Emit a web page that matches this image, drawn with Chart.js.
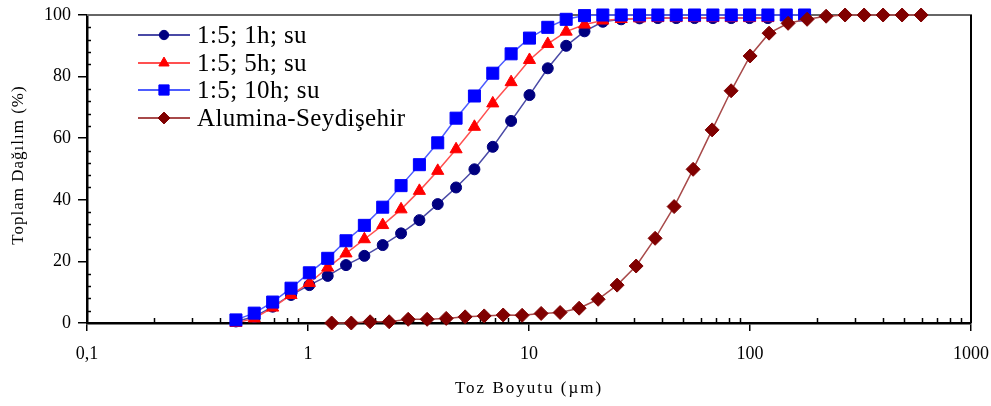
<!DOCTYPE html>
<html>
<head>
<meta charset="utf-8">
<script src="https://cdn.jsdelivr.net/npm/chart.js@4"></script>
<style>
html,body{margin:0;padding:0;background:#fff;}
#wrap{width:991px;height:406px;position:relative;}
canvas{display:block;}
</style>
</head>
<body>
<div id="wrap"><canvas id="c" width="991" height="406"></canvas></div>
<script>
// ---- data ----
const seriesNames = ['1:5; 1h; su', '1:5; 5h; su', '1:5; 10h; su', 'Alumina-Seydişehir'];
const sizesMilled = [0.472,0.571,0.692,0.838,1.014,1.228,1.486,1.799,2.178,2.637,3.192,3.864,4.678,5.663,6.856,8.30,10.05,12.16,14.73,17.83,21.58,26.13,31.63,38.29,46.36,56.12,67.94,82.25,99.57,120.5,145.9,176.6];
const sizesAlumina = [1.28,1.57,1.91,2.33,2.84,3.46,4.22,5.14,6.27,7.64,9.31,11.35,13.83,16.86,20.55,25.05,30.53,37.21,45.36,55.29,67.39,82.14,100.1,122.0,148.7,181.3,221.0,269.3,328.3,400.1,487.7,594.5];
const cum1h = [0.5,2,5.3,9.1,12.3,15.3,18.8,21.8,25.3,29.1,33.4,38.6,44,49.9,57.2,65.6,74,82.7,90,94.7,97.8,98.6,98.9,99,99,99,99,99,99,99];
const cum5h = [0,1.5,5,9.1,13,18,22.6,27.2,31.8,36.9,42.9,49.4,56.4,63.7,71.3,78.2,85.4,90.6,94.6,96.9,98.2,98.7,98.9,99,99,99,99,99,99,99];
const cum10h = [1,3.2,6.8,11.3,16.3,21,26.7,31.7,37.6,44.6,51.4,58.5,66.5,73.7,81.1,87.4,92.5,96,98.6,99.8,100,100,100,100,100,100,100,100,100,100,100,100];
const cumAlumina = [0,0,0.4,0.4,1.2,1.2,1.5,2,2.3,2.6,2.5,3.1,3.4,4.8,7.7,12.3,18.5,27.5,37.8,49.9,62.7,75.4,86.7,94.1,97.3,98.6,99.6,100,100,100,100,100];
const xTickValues = [0.1, 1, 10, 100, 1000];
const xTickLabels = ['0,1', '1', '10', '100', '1000'];
const yTickValues = [0, 20, 40, 60, 80, 100];
const xTitle = 'Toz Boyutu (µm)';
const yTitle = 'Toplam Dağılım (%)';

// ---- build ----
function pairs(xs, ys){ return ys.map((v,i)=>({x:xs[i], y:v})); }
const FONT = '"Liberation Serif", "Times New Roman", serif';

const datasets = [
  {label: seriesNames[0], data: pairs(sizesMilled, cum1h), borderColor:'#4a4aa6', pointBackgroundColor:'#000080', pointBorderColor:'#000080', pointStyle:'circle', pointRadius:5.5, order:4},
  {label: seriesNames[1], data: pairs(sizesMilled, cum5h), borderColor:'#ff5050', pointBackgroundColor:'#ff0000', pointBorderColor:'#ff0000', pointStyle:'triangle', pointRadius:7, order:3},
  {label: seriesNames[2], data: pairs(sizesMilled, cum10h), borderColor:'#4d5cff', pointBackgroundColor:'#0000ff', pointBorderColor:'#0000ff', pointStyle:'rect', pointRadius:8.5, order:2},
  {label: seriesNames[3], data: pairs(sizesAlumina, cumAlumina), borderColor:'#a84a4a', pointBackgroundColor:'#800000', pointBorderColor:'#800000', pointStyle:'rectRot', pointRadius:7, order:1}
].map(d => Object.assign({borderWidth:1.5, pointBorderWidth:1, tension:0, clip:false, pointHoverRadius:d.pointRadius}, d));

const decor = {
  id: 'decor',
  beforeDatasetsDraw(chart){
    const {ctx, chartArea:a, scales:{x, y}} = chart;
    ctx.save();
    ctx.lineWidth = 2;
    ctx.strokeStyle = '#666';
    ctx.beginPath(); ctx.moveTo(a.left, a.top); ctx.lineTo(a.right + 1, a.top); ctx.stroke();
    ctx.strokeStyle = '#000';
    ctx.beginPath(); ctx.moveTo(a.right, a.top); ctx.lineTo(a.right, a.bottom); ctx.stroke();
    ctx.lineWidth = 1.5;
    // inner minor ticks on y
    for (let v = 4; v < 100; v += 4) {
      if (v % 20 === 0) continue;
      const py = Math.round(y.getPixelForValue(v)) + 0.5;
      ctx.beginPath(); ctx.moveTo(a.left, py); ctx.lineTo(a.left + 4, py); ctx.stroke();
    }
    // inner minor ticks on x
    for (const d of xTickValues.slice(0, -1)) {
      for (let m = 2; m <= 9; m++) {
        const px = Math.round(x.getPixelForValue(d * m)) + 0.5;
        ctx.beginPath(); ctx.moveTo(px, a.bottom); ctx.lineTo(px, a.bottom - 5); ctx.stroke();
      }
    }
    ctx.restore();
  },
  afterDraw(chart){
    const {ctx} = chart;
    const H = Chart.helpers;
    ctx.save();
    // axis titles
    ctx.fillStyle = '#000';
    ctx.font = '17px ' + FONT;
    ctx.textAlign = 'center';
    ctx.textBaseline = 'middle';
    try { ctx.letterSpacing = '2px'; } catch(e) {}
    ctx.fillText(xTitle, 529, 389);
    try { ctx.letterSpacing = '1px'; } catch(e) {}
    ctx.save();
    ctx.translate(19, 165);
    ctx.rotate(-Math.PI / 2);
    ctx.fillText(yTitle, 0, 0);
    ctx.restore();
    try { ctx.letterSpacing = '0.4px'; } catch(e) {}
    // legend
    const rowY = [35, 63, 90, 118];
    chart.data.datasets.forEach((ds, i) => {
      const yy = rowY[i];
      ctx.strokeStyle = ds.borderColor;
      ctx.lineWidth = 2;
      ctx.beginPath(); ctx.moveTo(138, yy); ctx.lineTo(190, yy); ctx.stroke();
      ctx.fillStyle = ds.pointBackgroundColor;
      ctx.strokeStyle = ds.pointBorderColor;
      ctx.lineWidth = 1;
      H.drawPoint(ctx, {pointStyle: ds.pointStyle, radius: ds.pointRadius * 0.85, rotation: 0, borderWidth: 1}, 164, yy);
      ctx.fillStyle = '#000';
      ctx.font = '25px ' + FONT;
      ctx.textAlign = 'left';
      ctx.textBaseline = 'alphabetic';
      ctx.fillText(ds.label, 197, yy + 8);
    });
    try { ctx.letterSpacing = '0px'; } catch(e) {}
    ctx.restore();
  }
};

new Chart(document.getElementById('c'), {
  type: 'line',
  data: { datasets },
  options: {
    responsive: false,
    animation: false,
    devicePixelRatio: 1,
    events: [],
    layout: { padding: { top: 15, right: 20, left: 0, bottom: 0 } },
    plugins: { legend: { display: false }, tooltip: { enabled: false } },
    scales: {
      x: {
        type: 'logarithmic',
        min: 0.1, max: 1000,
        afterBuildTicks: s => { s.ticks = xTickValues.map(v => ({value: v, major: true})); },
        afterFit: s => { s.height = 83; s.paddingLeft = 0; s.paddingRight = 0; },
        ticks: {
          autoSkip: false, maxRotation: 0, padding: 12, color: '#000',
          font: { family: FONT, size: 18 },
          callback: v => { const i = xTickValues.findIndex(t => Math.abs(t - v) / t < 1e-6); return i >= 0 ? xTickLabels[i] : ''; }
        },
        grid: { drawOnChartArea: false, drawTicks: true, tickLength: 8, color: '#000', lineWidth: 1.5 },
        border: { display: true, color: '#000', width: 2.5 }
      },
      y: {
        type: 'linear',
        min: 0, max: 100,
        afterBuildTicks: s => { s.ticks = yTickValues.map(v => ({value: v})); },
        afterFit: s => { s.width = 87; s.paddingTop = 0; s.paddingBottom = 0; },
        ticks: { padding: 7, color: '#000', font: { family: FONT, size: 18 } },
        grid: { drawOnChartArea: false, drawTicks: true, tickLength: 9, color: '#000', lineWidth: 1.5 },
        border: { display: true, color: '#000', width: 2.5 }
      }
    }
  },
  plugins: [decor]
});
</script>
</body>
</html>
